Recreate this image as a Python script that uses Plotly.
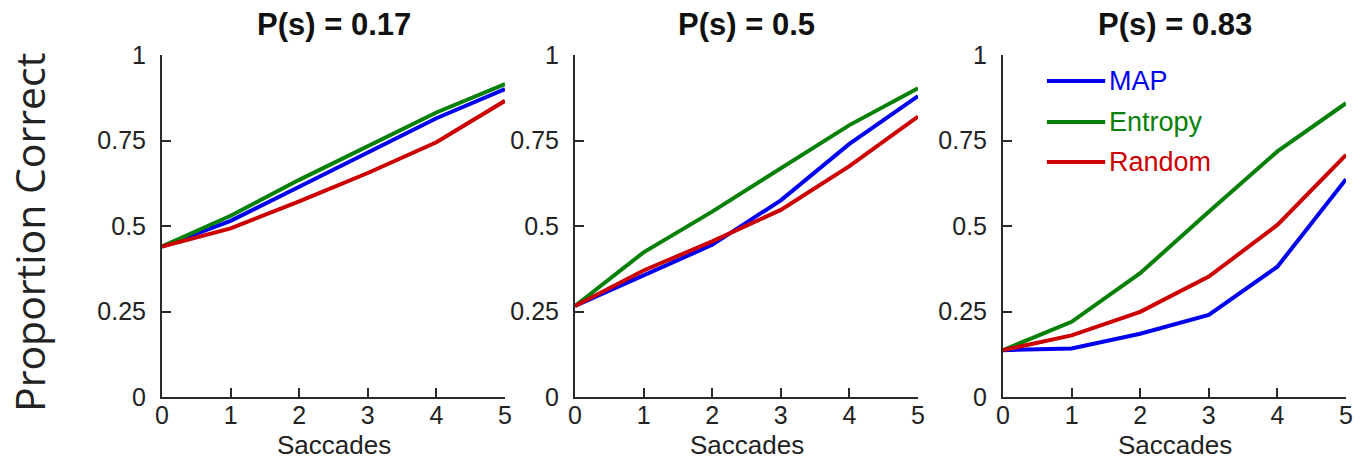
import plotly.graph_objects as go

saccades = [0, 1, 2, 3, 4, 5]
panel_titles = ["P(s) = 0.17", "P(s) = 0.5", "P(s) = 0.83"]
series_names = ["MAP", "Entropy", "Random"]
series_colors = ["#0000F0", "#068006", "#CC0000"]

# values per panel: MAP, Entropy, Random
p017_map = [0.44, 0.515, 0.615, 0.715, 0.815, 0.90]
p017_entropy = [0.44, 0.53, 0.635, 0.735, 0.832, 0.915]
p017_random = [0.44, 0.493, 0.572, 0.655, 0.745, 0.866]

p05_map = [0.266, 0.355, 0.445, 0.575, 0.74, 0.88]
p05_entropy = [0.266, 0.423, 0.542, 0.668, 0.795, 0.903]
p05_random = [0.266, 0.37, 0.455, 0.547, 0.675, 0.82]

p083_map = [0.137, 0.142, 0.185, 0.24, 0.381, 0.637]
p083_entropy = [0.137, 0.22, 0.362, 0.542, 0.718, 0.859]
p083_random = [0.137, 0.18, 0.249, 0.352, 0.503, 0.708]

yticks = [0, 0.25, 0.5, 0.75, 1]
ytick_labels = ["0", "0.25", "0.5", "0.75", "1"]

panels = [
    [p017_map, p017_entropy, p017_random],
    [p05_map, p05_entropy, p05_random],
    [p083_map, p083_entropy, p083_random],
]

W, H = 1368, 464
ml, mr, mt, mb = 162, 22, 55, 67
pw = W - ml - mr
ph = H - mt - mb
px_domains = [(162, 505), (575, 918), (1003, 1346)]
domains = [((a - ml) / pw, (b - ml) / pw) for a, b in px_domains]

FONT = "Liberation Sans, Arial, Helvetica, sans-serif"
AX = "#2a2a2a"

fig = go.Figure()
for i, series in enumerate(panels):
    xa = "x" if i == 0 else f"x{i+1}"
    ya = "y" if i == 0 else f"y{i+1}"
    for name, color, vals in zip(series_names, series_colors, series):
        fig.add_trace(go.Scatter(
            x=saccades, y=vals, mode="lines", name=name,
            line=dict(color=color, width=4),
            xaxis=xa, yaxis=ya, showlegend=False, cliponaxis=False,
        ))

layout = dict(
    width=W, height=H,
    margin=dict(l=ml, r=mr, t=mt, b=mb),
    paper_bgcolor="white", plot_bgcolor="white",
    font=dict(family=FONT, color="#222", size=25),
    showlegend=False,
)
for i, (d0, d1) in enumerate(domains):
    sx = "" if i == 0 else str(i + 1)
    layout[f"xaxis{sx}"] = dict(
        domain=[d0, d1], range=[0, 5], tickvals=saccades,
        ticks="inside", ticklen=9, tickwidth=1.5, tickcolor=AX,
        showline=True, linecolor=AX, linewidth=2, showgrid=False, zeroline=False,
        tickfont=dict(size=25, color="#222"), anchor=f"y{sx}",
        ticklabelstandoff=-5,
    )
    layout[f"yaxis{sx}"] = dict(
        domain=[0, 1], range=[0, 1], tickvals=yticks, ticktext=ytick_labels,
        ticks="inside", ticklen=9, tickwidth=1.5, tickcolor=AX,
        showline=True, linecolor=AX, linewidth=2, showgrid=False, zeroline=False,
        tickfont=dict(size=25, color="#222"), anchor=f"x{sx}",
        ticklabelstandoff=9,
    )
fig.update_layout(**layout)

annotations = []
for i, (d0, d1) in enumerate(domains):
    cx = (d0 + d1) / 2
    annotations.append(dict(
        text=f"<b>{panel_titles[i]}</b>", x=cx, y=1 + (mt - 25) / ph,
        xref="paper", yref="paper", showarrow=False, xanchor="center", yanchor="middle",
        font=dict(size=31, color="#111", family=FONT),
    ))
    annotations.append(dict(
        text="Saccades", x=cx, y=-(445 - (H - mb)) / ph,
        xref="paper", yref="paper", showarrow=False, xanchor="center", yanchor="middle",
        font=dict(size=26, color="#222", family=FONT),
    ))
annotations.append(dict(
    text="Proportion Correct", x=-(ml - 29) / pw, y=1 - (233 - mt) / ph,
    xref="paper", yref="paper", showarrow=False, xanchor="center", yanchor="middle",
    textangle=-90, font=dict(size=41, color="#222", family="Open Sans, " + FONT),
))

# manual legend in third panel (data coordinates of x3/y3)
leg_y = [0.924, 0.804, 0.687]
shapes = []
for name, color, ly in zip(series_names, series_colors, leg_y):
    shapes.append(dict(type="line", xref="x3", yref="y3", x0=0.64, x1=1.49, y0=ly, y1=ly,
                       line=dict(color=color, width=4)))
    annotations.append(dict(
        text=name, x=1.52, y=ly, xref="x3", yref="y3", showarrow=False,
        xanchor="left", yanchor="middle", font=dict(size=27, color=color, family=FONT),
    ))
fig.update_layout(annotations=annotations, shapes=shapes)

fig.write_html("out.html")
